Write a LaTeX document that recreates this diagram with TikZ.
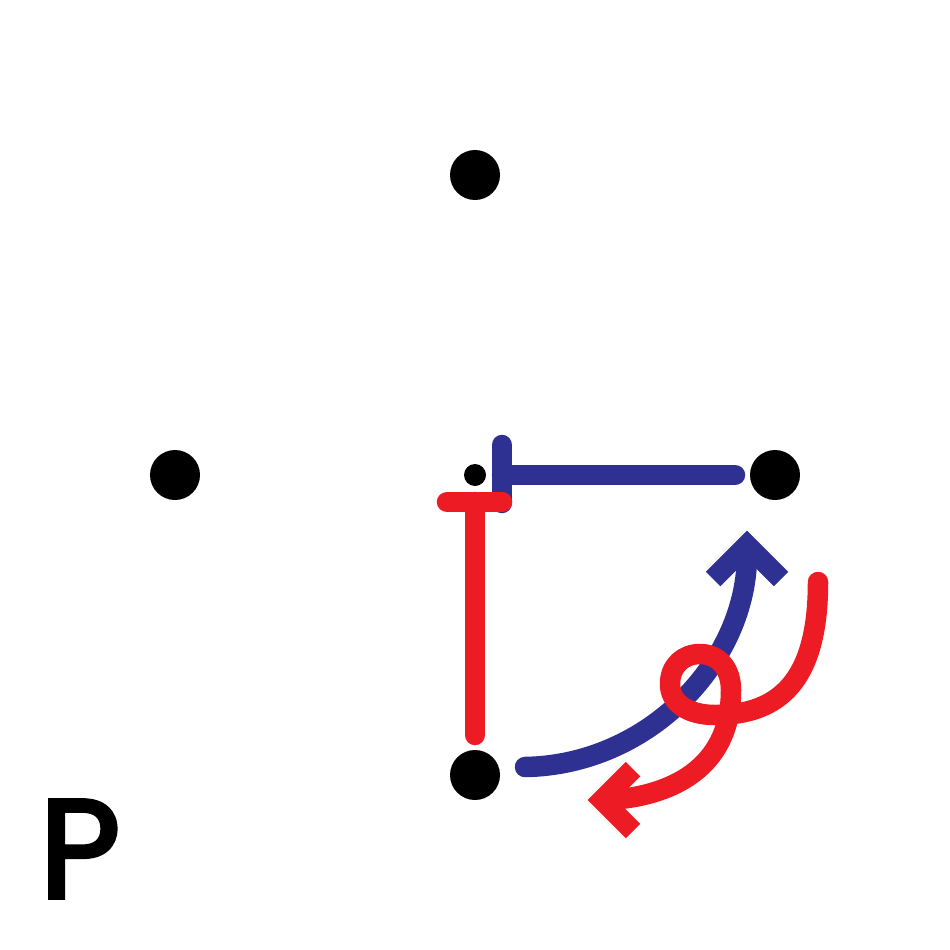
\documentclass[tikz,border=0pt]{standalone}
\usepackage{fontspec}
\newfontfamily\pfont[FakeBold=3]{Poppins}
\definecolor{cred}{HTML}{ED1C24}
\definecolor{cblue}{HTML}{2E3192}
\begin{document}
\begin{tikzpicture}[x=1pt,y=-1pt,
  dot/.style={circle,fill=black,inner sep=0pt,minimum size=50pt},
  smalldot/.style={circle,fill=black,inner sep=0pt,minimum size=22pt},
  redline/.style={draw=cred,line width=20.5pt,line cap=round,line join=round},
  blueline/.style={draw=cblue,line width=20.5pt,line cap=round,line join=round},
  redhead/.style={draw=cred,line width=20.5pt,line cap=butt,line join=miter},
  bluehead/.style={draw=cblue,line width=20.5pt,line cap=butt,line join=miter}]
\useasboundingbox (0,0) rectangle (950,950);
\node[dot] (top) at (475,175) {};
\node[dot] (left) at (175,475) {};
\node[dot] (right) at (775,475) {};
\node[dot] (bottom) at (475,775) {};
\node[smalldot] (mid) at (475,475) {};
\node[inner sep=0pt] (plabel) at (80,849) {\pfont\fontsize{140pt}{140pt}\selectfont P};
% blue inhibition line
\coordinate (bs) at ([xshift=-40pt]right.center);
\coordinate (be) at ([xshift=27pt]mid.center);
\draw[blueline] (bs) -- (be);
\draw[blueline] ([yshift=30pt]be) -- ([yshift=-28pt]be);
% red inhibition line
\coordinate (rs) at ([yshift=40pt]bottom.center);
\coordinate (re) at ([yshift=-27pt]mid.center);
\draw[redline] (rs) -- (re);
\draw[redline] ([xshift=-28pt]re) -- ([xshift=27pt]re);
% blue curved arrow
\coordinate (bcs) at ([xshift=50pt,yshift=8pt]bottom.center);
\coordinate (bct) at ([xshift=-28pt,yshift=-70pt]right.center);
\draw[blueline] (bcs) .. controls (650,765) and (748,660) .. ([yshift=-8pt]bct);
\draw[bluehead] ([xshift=-34pt,yshift=-34pt]bct) -- (bct) -- ([xshift=34pt,yshift=-34pt]bct);
% red curly arrow
\coordinate (rcs) at (818,582);
\coordinate (rct) at (602,800);
\draw[redline] (rcs) .. controls (818,680) and (780,715) .. (715,715)
  .. controls (688,715) and (670,703) .. (670,684)
  .. controls (670,665) and (684,654) .. (700,654)
  .. controls (718,654) and (731,668) .. (731,690)
  .. controls (731,762) and (680,795) .. ([xshift=8pt]rct);
\draw[redhead] ([xshift=31pt,yshift=31pt]rct) -- (rct) -- ([xshift=31pt,yshift=-31pt]rct);
\end{tikzpicture}
\end{document}
